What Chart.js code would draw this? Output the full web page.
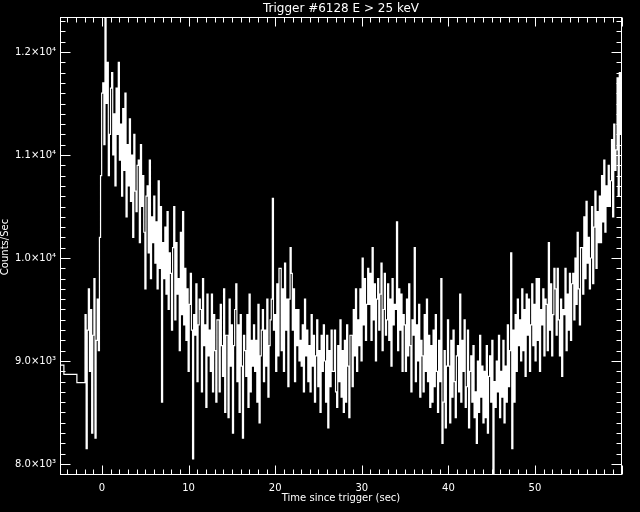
<!DOCTYPE html>
<html>
<head>
<meta charset="utf-8">
<script src="https://cdn.jsdelivr.net/npm/chart.js@4/dist/chart.umd.min.js"></script>
<style>
  html, body { margin: 0; padding: 0; background: #000; }
  canvas { display: block; }
</style>
</head>
<body>
<canvas id="lc" width="640" height="512"></canvas>
<script>
// light curve data
const titleText = "Trigger #6128 E > 25 keV";
const xTitle = "Time since trigger (sec)";
const yTitle = "Counts/Sec";

// wide pre-trigger bins
const preTimes = [-6.0, -4.4, -2.9];
const preCounts = [8960, 8870, 8790];

// fine bins after -1.96 s, 8 bins per row
const binStart = -1.96;
const binWidth = 0.128;
const counts = [
  9450, 8150, 9300, 9700, 8900, 9500, 8300, 9250,
  9800, 8250, 9200, 9600, 9100, 10200, 10800, 11600,
  11700, 11100, 12400, 11500, 11900, 10800, 11200, 11650,
  11800, 11000, 11400, 10700, 11650, 11200, 11900, 10950,
  11300, 10600, 11450, 10850, 11600, 10400, 11100, 10700,
  11350, 10550, 11000, 10200, 11200, 10650, 10450, 10900,
  10950, 10150, 11100, 10500, 10800, 10250, 9700, 10600,
  10700, 10050, 10950, 9800, 10400, 10150, 10600, 9950,
  10350, 9700, 10750, 9900, 10500, 8600, 10150, 9800,
  10300, 9650, 10450, 9500, 10050, 9850, 9300, 10100,
  10500, 9400, 10150, 9650, 9800, 9100, 10250, 9450,
  10450, 9350, 9900, 9200, 9700, 8900, 9550, 9850,
  9300, 8050, 9450, 9250, 9750, 8800, 9350, 9600,
  9500, 8700, 9800, 9150, 9350, 8550, 9650, 9050,
  9300, 8900, 9650, 8700, 9450, 9100, 8600, 9400,
  9400, 8700, 9550, 9150, 8850, 9700, 8500, 9250,
  9250, 8450, 9600, 8950, 9350, 8300, 9150, 9500,
  9750, 8800, 9350, 8500, 9450, 8950, 8250, 9250,
  9100, 8850, 9450, 8550, 9650, 8700, 9200, 8950,
  9350, 8900, 9200, 8600, 9550, 8400, 9050, 9300,
  9500, 8800, 9300, 8950, 9600, 8650, 9150, 9400,
  9600, 10580, 9300, 9450, 8900, 9750, 9050, 9900,
  9900, 9100, 9700, 8900, 9950, 9300, 9600, 8750,
  9600, 10100, 9850, 9300, 9700, 8800, 9500, 9150,
  9500, 9000, 9200, 8950, 9350, 8700, 9600, 9050,
  9300, 8800, 9150, 8700, 9450, 8950, 9250, 8600,
  9050, 9400, 8750, 9100, 8500, 9250, 8900, 9350,
  9000, 8600, 9250, 8350, 9100, 8750, 9300, 8900,
  8900, 9300, 8700, 8550, 9150, 8800, 9400, 8650,
  9100, 8500, 9200, 8600, 9350, 8950, 8450, 9250,
  9250, 8750, 9500, 9050, 9700, 8900, 9400, 9150,
  9700, 9000, 10000, 9350, 9800, 9200, 9550, 9900,
  9550, 9850, 9200, 10100, 9400, 9750, 9000, 9600,
  9800, 9300, 9650, 9950, 9100, 9500, 9850, 9250,
  9400, 9750, 9200, 9600, 8950, 9800, 9350, 9550,
  9500, 10350, 9100, 9700, 9300, 9650, 8900, 9450,
  9350, 8900, 9600, 9050, 9750, 9150, 8700, 9400,
  9250, 10100, 8800, 9350, 9000, 9550, 8650, 9200,
  9050, 8700, 9450, 8900, 9600, 8800, 9250, 8550,
  9150, 8600, 9300, 8750, 9450, 8900, 8500, 9200,
  8800, 9800, 8200, 8600, 9100, 8350, 8950, 9400,
  8950, 8400, 9200, 8650, 9300, 8800, 8450, 9050,
  9150, 8700, 9650, 8600, 9200, 8900, 9400, 8550,
  8750, 9300, 8350, 8900, 9050, 8600, 9150, 8450,
  8700, 8200, 9000, 8500, 9250, 8650, 8950, 8400,
  8900, 8450, 9150, 8300, 8850, 9050, 8600, 9200,
  7880, 8800, 8550, 9000, 8700, 9250, 8450, 8900,
  8650, 9200, 8400, 8950, 8600, 9350, 8750, 9100,
  10050, 8150, 9300, 8600, 9450, 8900, 9600, 9150,
  9400, 9000, 9700, 9100, 9500, 8850, 9650, 9250,
  9600, 8900, 9350, 9750, 9150, 9550, 9000, 9800,
  9200, 9800, 8900, 9500, 9350, 9700, 9050, 9600,
  9550, 9100, 10150, 9300, 9750, 9050, 9450, 9900,
  9700, 9250, 9900, 9400, 9050, 9600, 8850, 9500,
  9450, 9900, 9100, 9650, 9300, 9850, 9200, 9750,
  9850, 9400, 10000, 9550, 10250, 9700, 9350, 10100,
  10100, 9650, 10400, 9800, 10550, 9950, 10200, 9700,
  10000, 10500, 9750, 10300, 10650, 9900, 10450, 10150,
  10600, 10150, 10800, 10350, 10950, 10250, 10700, 10500,
  10900, 10500, 10750, 11150, 10400, 11300, 10850, 11050,
  11750, 10600, 11800, 11200, 11600, 10900, 11400, 11100
];

const xMin = -4.85, xMax = 60.05;
const yMin = 7893, yMax = 12340;
const xTickValues = [0, 10, 20, 30, 40, 50];
const yTickValues = [8000, 9000, 10000, 11000, 12000];
const yTickLabels = ["8.0\u00d710\u00b3", "9.0\u00d710\u00b3", "1.0\u00d710\u2074", "1.1\u00d710\u2074", "1.2\u00d710\u2074"];

const points = [];
preTimes.forEach((t, i) => points.push({ x: t, y: preCounts[i] }));
counts.forEach((c, i) => points.push({ x: binStart + i * binWidth, y: c }));
points.push({ x: binStart + counts.length * binWidth, y: counts[counts.length - 1] });

// IDL style box: frame, inward ticks on all four sides, texts
const idlBox = {
  id: 'idlBox',
  afterDraw(chart) {
    const ctx = chart.ctx;
    const a = chart.chartArea;
    const xs = chart.scales.x, ys = chart.scales.y;
    const L = Math.round(a.left) + 0.5, R = Math.round(a.right) - 0.5;
    const T = Math.round(a.top) + 0.5, B = Math.round(a.bottom) - 0.5;
    ctx.save();
    ctx.strokeStyle = '#fff';
    ctx.lineWidth = 1;
    ctx.strokeRect(L, T, R - L, B - T);
    ctx.beginPath();
    for (let v = Math.ceil(xMin); v <= xMax; v++) {
      const px = Math.round(xs.getPixelForValue(v)) + 0.5;
      const len = v % 10 === 0 ? 9 : 5;
      ctx.moveTo(px, B); ctx.lineTo(px, B - len);
      ctx.moveTo(px, T); ctx.lineTo(px, T + len);
    }
    for (let v = Math.ceil(yMin / 100) * 100; v <= yMax; v += 100) {
      const py = Math.round(ys.getPixelForValue(v)) + 0.5;
      const len = v % 1000 === 0 ? 10 : 5;
      ctx.moveTo(L, py); ctx.lineTo(L + len, py);
      ctx.moveTo(R, py); ctx.lineTo(R - len, py);
    }
    ctx.stroke();

    ctx.fillStyle = '#fff';
    ctx.textAlign = 'center';
    ctx.textBaseline = 'middle';
    ctx.font = '12px "DejaVu Sans"';
    ctx.fillText(titleText, (a.left + a.right) / 2, 9);
    ctx.font = '10px "DejaVu Sans"';
    ctx.fillText(xTitle, (a.left + a.right) / 2, 498);
    ctx.translate(5, 247);
    ctx.rotate(-Math.PI / 2);
    ctx.fillText(yTitle, 0, 0);
    ctx.restore();
  }
};

new Chart(document.getElementById('lc'), {
  type: 'line',
  data: {
    datasets: [{
      data: points,
      stepped: true,
      borderColor: '#fff',
      borderWidth: 1.2,
      pointRadius: 0,
      fill: false
    }]
  },
  options: {
    responsive: false,
    animation: false,
    devicePixelRatio: 1,
    layout: { padding: { left: 0, right: 18, top: 17, bottom: 0 } },
    plugins: { legend: { display: false }, tooltip: { enabled: false } },
    scales: {
      x: {
        type: 'linear',
        min: xMin, max: xMax,
        grid: { display: false, drawTicks: false },
        border: { display: false },
        afterFit: s => { s.height = 37; },
        afterBuildTicks: s => { s.ticks = xTickValues.map(v => ({ value: v })); },
        ticks: {
          color: '#fff',
          padding: 7,
          maxRotation: 0,
          font: { family: 'DejaVu Sans', size: 10 },
          callback: v => String(v)
        }
      },
      y: {
        type: 'linear',
        min: yMin, max: yMax,
        grid: { display: false, drawTicks: false },
        border: { display: false },
        afterFit: s => { s.width = 60; },
        afterBuildTicks: s => { s.ticks = yTickValues.map(v => ({ value: v })); },
        ticks: {
          color: '#fff',
          padding: 4,
          font: { family: 'DejaVu Sans', size: 10 },
          callback: v => yTickLabels[yTickValues.indexOf(v)]
        }
      }
    }
  },
  plugins: [idlBox]
});
</script>
</body>
</html>
